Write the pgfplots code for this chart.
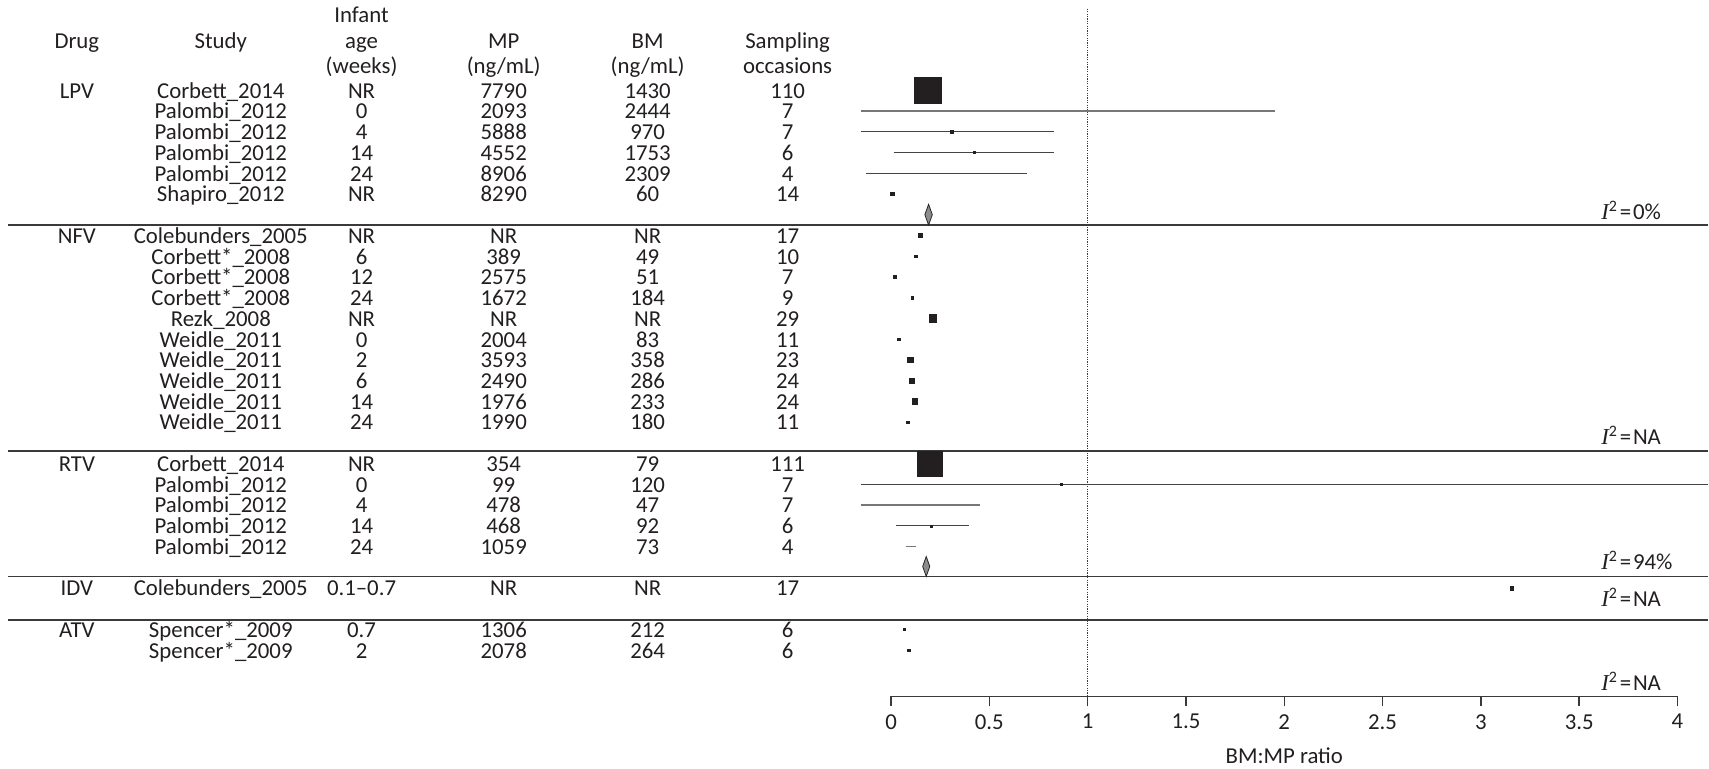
\documentclass[border=0pt]{standalone}
\usepackage{pgfplots}
\pgfplotsset{compat=1.18}
\usepackage{fontspec}
\setmainfont{Carlito}
\newfontfamily\tms{Liberation Serif}
\definecolor{txt}{HTML}{231F20}
\definecolor{ln}{HTML}{3A3A3A}
\definecolor{ci}{HTML}{444444}
\definecolor{cig}{HTML}{777777}
\definecolor{sq}{HTML}{231F20}
\definecolor{dia}{HTML}{8C8C8C}
\newcommand\trow[7]{%
\node[tx] at (axis cs:-4.141,{-(#1+0.38)}) {#2};
\node[tx] at (axis cs:-3.409,{-(#1+0.38)}) {#3};
\node[tx] at (axis cs:-2.693,{-(#1+0.38)}) {#4};
\node[tx] at (axis cs:-1.970,{-(#1+0.38)}) {#5};
\node[tx] at (axis cs:-1.238,{-(#1+0.38)}) {#6};
\node[tx] at (axis cs:-0.526,{-(#1+0.38)}) {#7};}
\newcommand\isq[2]{\node[tx,anchor=base west] at (axis cs:3.611,{-(#1)}) {{\tms\itshape I}\textsuperscript{2}\kern0.9pt=\kern0.9pt#2};}
\begin{document}
\fontsize{11.4}{13}\selectfont
\begin{tikzpicture}[tx/.style={inner sep=0pt, anchor=base, text=txt}]
\begin{axis}[
  x=98.35pt, y=10.375pt,
  xmin=0, xmax=4, ymin=-29.22, ymax=3.93,
  axis x line*=bottom, axis y line=none,
  clip=false,
  xtick={0,0.5,1,1.5,2,2.5,3,3.5,4},
  xticklabels={0,0.5,1,1.5,2,2.5,3,3.5,4},
  ytick=\empty,
  tick align=outside,
  major tick length=5pt,
  tick style={ln, line width=0.7pt},
  axis line style={ln, line width=0.7pt},
  xticklabel style={text=txt, font=\fontsize{11.4}{13}\selectfont},
  /pgf/number format/assume math mode=true,
  xlabel={BM:MP ratio},
  xlabel style={at={(axis description cs:0.5,0)}, anchor=center, inner sep=0pt, yshift=-29.7pt, text=txt, font=\fontsize{11.4}{13}\selectfont},
]
% bounding frame
\path (axis cs:-4.532,4.352) rectangle (axis cs:4.156,-32.71);
% reference line at 1
\addplot[ln, line width=0.5pt, dash pattern=on 0.6pt off 0.6pt] coordinates {(1,3.93) (1,-29.22)};
% separators
\addplot[ln, line width=0.85pt] coordinates {(-4.49,-6.5) (4.156,-6.5)};
\addplot[ln, line width=0.85pt] coordinates {(-4.49,-17.38) (4.156,-17.38)};
\addplot[ln, line width=0.85pt] coordinates {(-4.49,-23.44) (4.156,-23.44)};
\addplot[ln, line width=0.85pt] coordinates {(-4.49,-25.53) (4.156,-25.53)};
% confidence intervals
\addplot[cig, line width=0.8pt] coordinates {(-0.155,-1) (1.955,-1)};
\addplot[ci, line width=0.65pt] coordinates {(-0.155,-2) (0.831,-2)};
\addplot[ci, line width=0.65pt] coordinates {(0.013,-3) (0.831,-3)};
\addplot[ci, line width=0.65pt] coordinates {(-0.126,-4) (0.690,-4)};
\addplot[ci, line width=0.65pt] coordinates {(-0.155,-19) (4.156,-19)};
\addplot[cig, line width=0.85pt] coordinates {(-0.155,-20) (0.450,-20)};
\addplot[ci, line width=0.65pt] coordinates {(0.026,-21) (0.399,-21)};
\addplot[cig, line width=0.75pt] coordinates {(0.077,-22) (0.128,-22)};
% study estimates (x = ratio, y = -row, s = half side in pt)
\addplot[scatter, only marks, mark=square*,
  scatter/use mapped color={draw=sq, fill=sq},
  line width=0.2pt,
  visualization depends on={\thisrow{s} \as \msz},
  scatter/@pre marker code/.append style={/tikz/mark size=\msz}]
  table[x=x, y=y, meta=s] {
x      y    s
0.187  0    6.6
0.307  -2   0.7
0.425  -3   0.55
0.006  -5   0.8
0.150  -7   0.95
0.126  -8   0.7
0.019  -9   0.7
0.106  -10  0.55
0.211  -11  1.9
0.040  -12  0.7
0.096  -13  1.4
0.106  -14  1.2
0.121  -15  1.4
0.085  -16  0.7
0.197  -18  6.4
0.865  -19  0.45
0.206  -21  0.45
3.157  -24  0.9
0.067  -26  0.5
0.090  -27  0.55
};
% pooled diamonds
\addplot[fill=dia, draw=black!85, line width=0.4pt] coordinates {(0.172,-6.0) (0.191,-5.5) (0.210,-6.0) (0.191,-6.5) (0.172,-6.0)};
\addplot[fill=dia, draw=black!85, line width=0.4pt] coordinates {(0.161,-22.96) (0.179,-22.48) (0.197,-22.96) (0.179,-23.44) (0.161,-22.96)};
% header
\node[tx] at (axis cs:-2.693,3.27) {Infant};
\node[tx] at (axis cs:-4.141,1.99) {Drug};
\node[tx] at (axis cs:-3.409,1.99) {Study};
\node[tx] at (axis cs:-2.693,1.99) {age};
\node[tx] at (axis cs:-1.970,1.99) {MP};
\node[tx] at (axis cs:-1.238,1.99) {BM};
\node[tx] at (axis cs:-0.526,1.99) {Sampling};
\node[tx] at (axis cs:-2.693,0.79) {(weeks)};
\node[tx] at (axis cs:-1.970,0.79) {(ng/mL)};
\node[tx] at (axis cs:-1.238,0.79) {(ng/mL)};
\node[tx] at (axis cs:-0.526,0.79) {occasions};
% rows
\trow{0}{LPV}{Corbett\_2014}{NR}{7790}{1430}{110}
\trow{1}{}{Palombi\_2012}{0}{2093}{2444}{7}
\trow{2}{}{Palombi\_2012}{4}{5888}{970}{7}
\trow{3}{}{Palombi\_2012}{14}{4552}{1753}{6}
\trow{4}{}{Palombi\_2012}{24}{8906}{2309}{4}
\trow{5}{}{Shapiro\_2012}{NR}{8290}{60}{14}
\trow{7}{NFV}{Colebunders\_2005}{NR}{NR}{NR}{17}
\trow{8}{}{Corbett*\_2008}{6}{389}{49}{10}
\trow{9}{}{Corbett*\_2008}{12}{2575}{51}{7}
\trow{10}{}{Corbett*\_2008}{24}{1672}{184}{9}
\trow{11}{}{Rezk\_2008}{NR}{NR}{NR}{29}
\trow{12}{}{Weidle\_2011}{0}{2004}{83}{11}
\trow{13}{}{Weidle\_2011}{2}{3593}{358}{23}
\trow{14}{}{Weidle\_2011}{6}{2490}{286}{24}
\trow{15}{}{Weidle\_2011}{14}{1976}{233}{24}
\trow{16}{}{Weidle\_2011}{24}{1990}{180}{11}
\trow{18}{RTV}{Corbett\_2014}{NR}{354}{79}{111}
\trow{19}{}{Palombi\_2012}{0}{99}{120}{7}
\trow{20}{}{Palombi\_2012}{4}{478}{47}{7}
\trow{21}{}{Palombi\_2012}{14}{468}{92}{6}
\trow{22}{}{Palombi\_2012}{24}{1059}{73}{4}
\trow{24}{IDV}{Colebunders\_2005}{0.1–0.7}{NR}{NR}{17}
\trow{26}{ATV}{Spencer*\_2009}{0.7}{1306}{212}{6}
\trow{27}{}{Spencer*\_2009}{2}{2078}{264}{6}
% heterogeneity
\isq{6.25}{0\%}
\isq{17.1}{NA}
\isq{23.1}{94\%}
\isq{24.9}{NA}
\isq{28.95}{NA}
\end{axis}
\end{tikzpicture}
\end{document}
